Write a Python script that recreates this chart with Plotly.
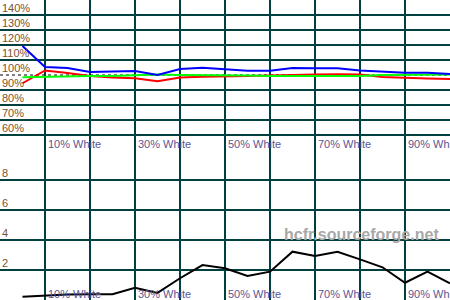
import plotly.graph_objects as go

# ---- data ----
levels = [5, 10, 15, 20, 25, 30, 35, 40, 45, 50, 55, 60, 65, 70, 75, 80, 85, 90, 95, 100]
red = [94.5, 103.0, 101.3, 99.3, 98.4, 97.8, 95.8, 98.4, 98.9, 98.9, 99.3, 99.7, 100.2, 100.3, 100.5, 100.3, 98.7, 98.0, 97.7, 97.3]
green = [98.5, 98.9, 99.1, 99.3, 99.3, 99.7, 100.3, 100.0, 100.0, 100.0, 99.7, 99.3, 99.3, 99.3, 99.3, 99.3, 100.0, 100.2, 100.2, 100.4]
blue = [119.3, 105.3, 104.7, 102.0, 102.3, 102.7, 100.0, 104.0, 104.9, 104.0, 102.9, 102.9, 104.7, 104.5, 104.5, 103.0, 102.3, 101.5, 101.5, 100.7]
delta_e = [0.22, 0.29, 0.37, 0.38, 0.38, 0.82, 0.47, 1.45, 2.33, 2.11, 1.60, 1.89, 3.22, 2.93, 3.22, 2.71, 2.18, 1.15, 1.89, 1.11]

top_tick_vals = [140, 130, 120, 110, 100, 90, 80, 70, 60]
top_tick_labels = ["140%", "130%", "120%", "110%", "100%", "90%", "80%", "70%", "60%"]
top_grid_vals = [60, 70, 80, 90, 110, 120, 130, 140]
bot_tick_vals = [8, 6, 4, 2]
bot_tick_labels = ["8", "6", "4", "2"]
x_label_vals = [10, 30, 50, 70, 90]
x_label_text = ["10% White", "30% White", "50% White", "70% White", "90% White"]
x_grid_vals = [0, 10, 20, 30, 40, 50, 60, 70, 80, 90]

GRID = "#004040"
YLAB = "#7a5230"
XLAB = "#5c5494"
FONT = "Liberation Sans, Arial, sans-serif"

fig = go.Figure()

# reference 100% line
fig.add_trace(go.Scatter(x=[0, 100], y=[100, 100], mode="lines",
                         line=dict(color="black", width=1, dash="3px,3px"),
                         xaxis="x", yaxis="y", hoverinfo="skip", showlegend=False))
for vals, col in [(red, "#ff0000"), (green, "#00ff00"), (blue, "#0000ff")]:
    fig.add_trace(go.Scatter(x=levels, y=vals, mode="lines",
                             line=dict(color=col, width=2),
                             xaxis="x", yaxis="y", showlegend=False))
fig.add_trace(go.Scatter(x=levels, y=delta_e, mode="lines",
                         line=dict(color="black", width=2),
                         xaxis="x2", yaxis="y2", showlegend=False))

annotations = []
for v, t in zip(top_tick_vals, top_tick_labels):
    annotations.append(dict(x=0, y=v, xref="x", yref="y", text=t, showarrow=False,
                            xanchor="left", yanchor="middle", xshift=0, yshift=7.5,
                            font=dict(family=FONT, size=11, color=YLAB)))
for v, t in zip(bot_tick_vals, bot_tick_labels):
    annotations.append(dict(x=0, y=v, xref="x2", yref="y2", text=t, showarrow=False,
                            xanchor="left", yanchor="middle", xshift=0, yshift=7.5,
                            font=dict(family=FONT, size=11, color=YLAB)))
for v, t in zip(x_label_vals, x_label_text):
    annotations.append(dict(x=v, y=54, xref="x", yref="y", text=t, showarrow=False,
                            xanchor="left", yanchor="middle", xshift=1,
                            font=dict(family=FONT, size=11, color=XLAB)))
    annotations.append(dict(x=v, y=0.4, xref="x2", yref="y2", text=t, showarrow=False,
                            xanchor="left", yanchor="middle", xshift=1,
                            font=dict(family=FONT, size=11, color=XLAB)))
annotations.append(dict(x=80.3, y=4.4, xref="x2", yref="y2", text="<b>hcfr.sourceforge.net</b>",
                        showarrow=False, xanchor="center", yanchor="middle",
                        font=dict(family=FONT, size=16, color="#a8a8a8")))

axis_common = dict(showline=False, zeroline=False, showticklabels=False, ticks="",
                   gridcolor=GRID, gridwidth=2)

fig.update_layout(
    width=450, height=300,
    margin=dict(l=0, r=0, t=0, b=0),
    paper_bgcolor="white", plot_bgcolor="white",
    xaxis=dict(range=[0, 100], domain=[0, 1], anchor="y", tickvals=x_grid_vals, showgrid=True, **axis_common),
    yaxis=dict(range=[50, 150], domain=[0.5, 1], anchor="x", tickvals=top_grid_vals, showgrid=True, **axis_common),
    xaxis2=dict(range=[0, 100], domain=[0, 1], anchor="y2", tickvals=x_grid_vals, showgrid=True, **axis_common),
    yaxis2=dict(range=[0, 10], domain=[0, 0.5], anchor="x2", tickvals=bot_tick_vals, showgrid=True, **axis_common),
    annotations=annotations,
    showlegend=False,
)

fig.write_html("out.html")
